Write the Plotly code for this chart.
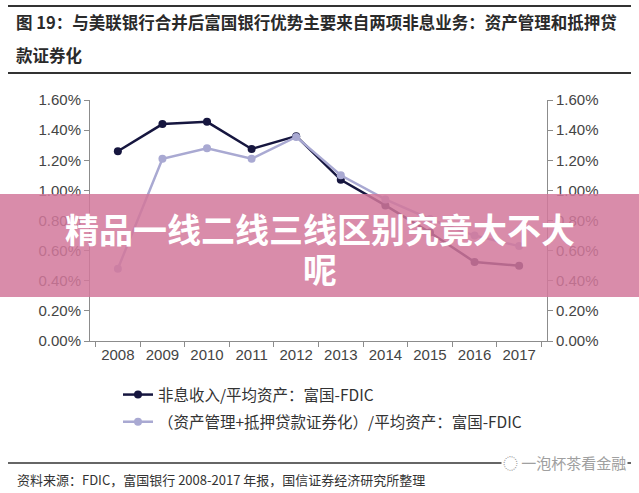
import plotly.graph_objects as go

years = ["2008", "2009", "2010", "2011", "2012", "2013", "2014", "2015", "2016", "2017"]
nonint_income = [1.26, 1.44, 1.455, 1.275, 1.36, 1.07, 0.90, 0.72, 0.525, 0.50]
am_mbs = [0.48, 1.21, 1.28, 1.21, 1.355, 1.10, 0.94, 0.81, 0.70, 0.63]
series_names = ["非息收入/平均资产：富国-FDIC", "（资产管理+抵押贷款证券化）/平均资产：富国-FDIC"]
y_ticks = [0, 0.2, 0.4, 0.6, 0.8, 1.0, 1.2, 1.4, 1.6]
y_tick_text = ["0.00%", "0.20%", "0.40%", "0.60%", "0.80%", "1.00%", "1.20%", "1.40%", "1.60%"]

W, H = 639, 493
L, R, T, B = 90, 547, 100, 341


def px(x):
    return (x - L) / (R - L)


def py(y):
    return (B - y) / (B - T)


fig = go.Figure()
fig.add_trace(go.Scatter(x=years, y=nonint_income, name=series_names[0], mode="lines+markers",
                         legendgroup="a",
                         line=dict(color="#16163f", width=2.5), marker=dict(size=8, color="#16163f")))
fig.add_trace(go.Scatter(x=years, y=am_mbs, name=series_names[1], mode="lines+markers", yaxis="y2",
                         legendgroup="b",
                         line=dict(color="#a9a9d2", width=2.5), marker=dict(size=8, color="#a9a9d2")))

axis_font = dict(family="Liberation Sans, Arial, sans-serif", size=15, color="#444444")
yax = dict(range=[0, 1.6], tickvals=y_ticks, ticktext=y_tick_text, showgrid=False,
           zeroline=False, showline=True, linecolor="#8c8c8c", linewidth=1, ticks="outside",
           ticklen=5, tickcolor="#8c8c8c", tickfont=axis_font, fixedrange=True)

fig.update_layout(
    width=W, height=H, autosize=False,
    margin=dict(l=L, r=W - R, t=T, b=H - B, pad=0, autoexpand=False),
    paper_bgcolor="white", plot_bgcolor="white",
    xaxis=dict(type="category", showgrid=False, showline=True, linecolor="#8c8c8c", linewidth=1,
               ticks="outside", tickson="boundaries", ticklen=5, tickcolor="#8c8c8c",
               tickfont=axis_font, zeroline=False),
    yaxis=dict(side="left", **yax),
    yaxis2=dict(side="right", overlaying="y", **yax),
    showlegend=True,
    legend=dict(x=px(118), y=py(378), xanchor="left", yanchor="top", orientation="v",
                font=dict(family="Noto Sans CJK SC, sans-serif", size=15.5, color="#333333"),
                bgcolor="rgba(0,0,0,0)", itemwidth=30, tracegroupgap=4),
)

shapes = []
# top rules
for yy in (6, 73):
    shapes.append(dict(type="line", xref="paper", yref="paper", x0=px(8), x1=px(631), y0=py(yy), y1=py(yy),
                       line=dict(color="#333333", width=2)))
# footer rule
shapes.append(dict(type="line", xref="paper", yref="paper", x0=px(8), x1=px(631), y0=py(463), y1=py(463),
                   line=dict(color="#333333", width=1.5)))
# banner
shapes.append(dict(type="rect", xref="paper", yref="paper", x0=px(0), x1=px(W), y0=py(194), y1=py(297),
                   fillcolor="rgba(210,120,155,0.85)", line=dict(width=0), layer="above"))
fig.update_layout(shapes=shapes)

title_font = dict(family="Noto Sans CJK SC, sans-serif", size=16.5, color="#2a2a2a")
ann = [
    dict(text="<b>图 19：与美联银行合并后富国银行优势主要来自两项非息业务：资产管理和抵押贷</b>",
         x=px(14), y=py(22), xanchor="left", yanchor="middle", font=title_font),
    dict(text="<b>款证券化</b>", x=px(14), y=py(55), xanchor="left", yanchor="middle", font=title_font),
    dict(text="资料来源：FDIC，富国银行 2008-2017 年报，国信证券经济研究所整理",
         x=px(15), y=py(479), xanchor="left", yanchor="middle",
         font=dict(family="Noto Sans CJK SC, sans-serif", size=13, color="#333333")),
    dict(text="◌ 一泡杯茶看金融", x=px(628), y=py(462), xanchor="right", yanchor="middle", bgcolor="white",
         font=dict(family="Noto Sans CJK SC, sans-serif", size=15, color="#a0a0a0")),
    dict(text="<b>精品一线二线三线区别究竟大不大</b>", x=px(320), y=py(228), xanchor="center", yanchor="middle",
         font=dict(family="Noto Sans CJK SC, sans-serif", size=34, color="white")),
    dict(text="<b>呢</b>", x=px(320), y=py(268), xanchor="center", yanchor="middle",
         font=dict(family="Noto Sans CJK SC, sans-serif", size=34, color="white")),
]
for a in ann:
    a.update(xref="paper", yref="paper", showarrow=False)
fig.update_layout(annotations=ann)

fig.write_html("out.html", config={"displayModeBar": False},
               post_script="document.body.style.margin='0';")
